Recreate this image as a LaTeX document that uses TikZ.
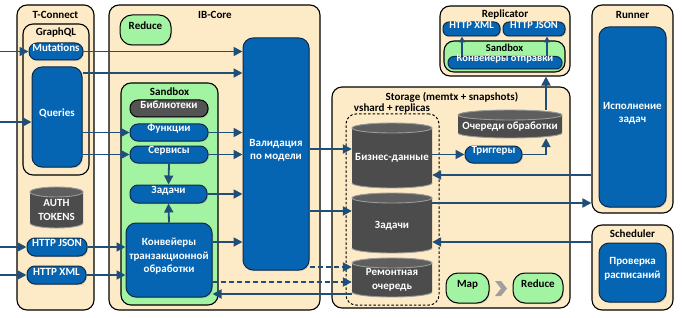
\documentclass[tikz,border=0pt]{standalone}
\usepackage{fontspec}
\setmainfont{Carlito}
\usetikzlibrary{arrows.meta,shadows,fit,calc}

\definecolor{cream}{HTML}{FDEBC8}
\definecolor{leaf}{HTML}{A2F4A2}
\definecolor{coreblue}{HTML}{0565B2}
\definecolor{edgeblue}{HTML}{0E2A47}
\definecolor{flowc}{HTML}{1F4E79}
\definecolor{dbgray}{HTML}{4C4C4C}
\definecolor{dbrim}{HTML}{9A9A9A}
\definecolor{libgray}{HTML}{535353}

\tikzset{
  softshadow/.style={drop shadow={opacity=0.3, shadow xshift=1pt, shadow yshift=-1.2pt}},
  group/.style={draw=black, line width=1.1pt, fill=cream, rounded corners=10pt},
  leafgroup/.style={draw=black, line width=1.1pt, fill=leaf, rounded corners=10pt},
  title/.style={text=black, inner sep=0pt},
  bluepill/.style={fill=coreblue, draw=edgeblue, line width=1pt, rounded corners=8pt, text=white, softshadow},
  smallpill/.style={bluepill, rounded corners=6pt, font=\fontsize{10.5}{12}\selectfont\bfseries},
  graypill/.style={fill=libgray, draw=black, line width=1pt, rounded corners=8pt, text=white, softshadow},
  blueblock/.style={fill=coreblue, draw=edgeblue, line width=1pt, rounded corners=10pt, text=white, align=center, softshadow},
  leafblock/.style={fill=leaf, draw=black, line width=1pt, rounded corners=12pt, text=black, softshadow},
  shardbox/.style={draw=black, line width=1pt, dash pattern=on 2.5pt off 2pt, rounded corners=10pt},
  dbtext/.style={text=white, align=center, inner sep=0pt, yshift=-2.5pt},
  flow/.style={draw=flowc, line width=1.8pt, -{Triangle[length=9pt,width=9pt]}},
  dflow/.style={flow, dash pattern=on 5pt off 3pt},
  thinflow/.style={draw=flowc, line width=1.5pt, -{Triangle[length=6pt,width=6pt]}},
}

% box spanning (x1,y1)-(x2,y2)
\newcommand\nbox[7][]{\node[#1, inner sep=0pt, fit={(#3,#4) (#5,#6)}] (#2) {#7};}

% database cylinder spanning (x1,y1)-(x2,y2)
\newcommand\dbshape[4]{%
  \fill[dbgray] (#1,#2+5) -- (#1,#4-5)
    arc[start angle=180, end angle=360, x radius={(#3-#1)/2*1pt}, y radius=5pt]
    -- (#3,#2+5)
    arc[start angle=0, end angle=180, x radius={(#3-#1)/2*1pt}, y radius=5pt] -- cycle;
  \draw[dbrim, line width=0.9pt] (#1,#4-5)
    arc[start angle=180, end angle=360, x radius={(#3-#1)/2*1pt}, y radius=5pt];
  \draw[dbrim, line width=0.9pt, fill=dbgray!90!white] ({(#1+#3)/2},#2+5)
    ellipse[x radius={(#3-#1)/2*1pt}, y radius=5pt];
}

\begin{document}
\begin{tikzpicture}[x=1pt, y=-1pt, font=\fontsize{11}{13.5}\selectfont\bfseries]
\useasboundingbox (0,0) rectangle (682,318);

% ---------- T-Connect ----------
\nbox[group]{tconn}{17}{5}{94}{310}{}
\node[title] (tconnT) at (55.5,15) {T-Connect};
\nbox[group]{gql}{23}{24}{89}{175}{}
\node[title] (gqlT) at (56,33) {GraphQL};
\nbox[bluepill]{mut}{29}{43}{83}{60}{Mutations}
\nbox[blueblock]{qr}{32}{67}{82}{167}{Queries}
\dbshape{30}{187}{83}{228}
\nbox[label={[dbtext]center:{AUTH\\TOKENS}}]{auth}{30}{187}{83}{228}{}
\nbox[bluepill]{hj}{27}{238}{87}{256}{HTTP JSON}
\nbox[bluepill]{hx}{27}{266}{86}{284}{HTTP XML}

% ---------- IB-Core ----------
\nbox[group]{ib}{109}{5}{320}{310}{}
\node[title] (ibT) at (215,15) {IB-Core};
\nbox[leafblock]{redA}{120}{15}{171}{45}{Reduce}
\nbox[leafgroup]{sbA}{121}{83}{218}{305}{}
\node[title] (sbAT) at (169.5,92) {Sandbox};
\nbox[graypill]{lib}{130}{100}{208}{117}{Библиотеки}
\nbox[bluepill]{fn}{130}{124}{208}{141}{Функции}
\nbox[bluepill]{sv}{130}{146}{208}{163}{Сервисы}
\nbox[bluepill]{zd}{130}{185}{207}{203}{Задачи}
\nbox[blueblock]{conv}{126}{223}{212}{297}{Конвейеры\\транзакционной\\обработки}
\nbox[blueblock]{val}{243}{38}{309}{270}{Валидация\\по модели}

% ---------- Storage ----------
\nbox[group]{st}{332}{87}{570}{308}{}
\node[title] (stT) at (452,97) {Storage (memtx + snapshots)};
\node[title] (vsT) at (392,109) {vshard + replicas};
\nbox[shardbox]{vs}{346}{114}{439}{305}{}
\dbshape{352}{123}{432}{188}
\nbox[label={[dbtext]center:Бизнес-данные}]{bd}{352}{123}{432}{188}{}
\dbshape{352}{193}{432}{253}
\nbox[label={[dbtext]center:Задачи}]{zs}{352}{193}{432}{253}{}
\dbshape{352}{258}{432}{297}
\nbox[label={[dbtext]center:{Ремонтная\\очередь}}]{rem}{352}{258}{432}{297}{}
\dbshape{458}{110}{562}{138}
\nbox[label={[dbtext]center:Очереди обработки}]{qu}{458}{110}{562}{138}{}
\nbox[bluepill]{trig}{465}{146}{522}{163}{Триггеры}
\nbox[leafblock]{map}{446}{273}{489}{303}{Map}
\nbox[leafblock]{redB}{513}{273}{563}{303}{Reduce}
\fill[gray!75] (495,281) -- (501,281) -- (507,288.5) -- (501,296) -- (495,296) -- (501,288.5) -- cycle;

% ---------- Replicator ----------
\nbox[group]{rep}{440}{6}{570}{76}{}
\node[title] (repT) at (505,15) {Replicator};
\nbox[smallpill]{rhx}{443}{22}{500}{36}{HTTP XML}
\nbox[smallpill]{rhj}{503}{22}{565}{36}{HTTP JSON}
\nbox[leafgroup]{sbB}{444}{41}{565}{72}{}
\node[title, font=\fontsize{10.5}{12}\selectfont\bfseries] (sbBT) at (504.5,48) {Sandbox};
\nbox[smallpill]{ko}{448}{56.5}{562}{69}{Конвейеры отправки}

% ---------- Runner / Scheduler ----------
\nbox[group]{run}{592}{5}{673}{213}{}
\node[title] (runT) at (632.5,15) {Runner};
\nbox[blueblock]{exec}{599}{27}{666}{207}{Исполнение\\задач}
\nbox[group]{sch}{592}{225}{673}{310}{}
\node[title] (schT) at (632.5,234) {Scheduler};
\nbox[blueblock]{chk}{599}{243}{666}{302}{Проверка\\расписаний}

% ---------- connectors ----------
\coordinate (i1) at (0,51.5);
\coordinate (i2) at (0,122);
\coordinate (i3) at (0,247);
\coordinate (i4) at (0,275);
\draw[flow] (i1) -- (mut.west);
\draw[flow] (i2) -- (i2 -| qr.west);
\draw[flow] (i3) -- (hj.west);
\draw[flow] (i4) -- (hx.west);

\draw[flow] (mut.east) -- (mut.east -| val.west);
\draw[flow] (qr.east |- 0,73) -- (val.west |- 0,73);
\draw[flow] (qr.east |- fn.west) -- (fn.west);
\draw[flow] (qr.east |- sv.west) -- (sv.west);
\draw[flow] (fn.east) -- (fn.east -| val.west);
\draw[flow] (sv.east) -- (sv.east -| val.west);
\draw[flow] (zd.east) -- (zd.east -| val.west);
\draw[flow] (conv.east |- 0,242) -- (val.west |- 0,242);
\draw[flow] (sv.south) -- (zd.north);
\draw[flow] (conv.north) -- (zd.south);
\draw[flow] (hj.east) -- (hj.east -| conv.west);
\draw[flow] (hx.east) -- (hx.east -| conv.west);

\draw[flow] (val.east |- 0,149) -- (bd.west |- 0,149);
\draw[flow] (val.east |- 0,211) -- (zs.west |- 0,211);
\draw[dflow] (val.east |- 0,267) -- (rem.west |- 0,267);
\draw[dflow] (conv.east |- 0,282) -- (rem.west |- 0,282);
\draw[flow] (rem.west |- 0,294) -- (conv.east |- 0,294);

\draw[flow] (bd.east |- trig.west) -- (trig.west);
\draw[flow] (trig.east) -| (qu.south -| 546,0);
\draw[flow] (qu.north -| 546,0) -- (rep.south -| 546,0);
\draw[thinflow] (ko.north -| 462,0) -- (rhx.south -| 462,0);
\draw[thinflow] (ko.north -| 547,0) -- (rhj.south -| 547,0);

\draw[flow] (run.west |- 0,175) -- (bd.east |- 0,175);
\draw[flow] (zs.east |- 0,203) -- (run.west |- 0,203);
\draw[flow] (sch.west |- 0,242) -- (zs.east |- 0,242);
\end{tikzpicture}
\end{document}
